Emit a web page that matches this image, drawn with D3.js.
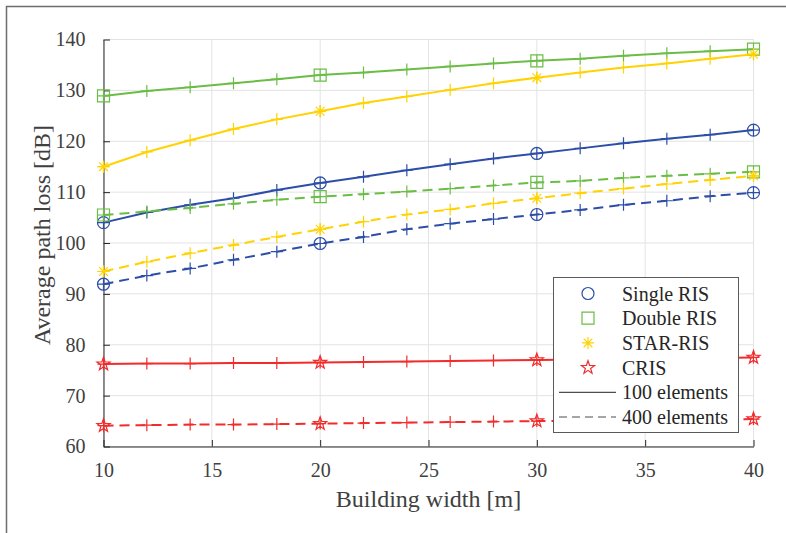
<!DOCTYPE html>
<html><head><meta charset="utf-8">
<script src="https://cdn.jsdelivr.net/npm/d3@7"></script>
<style>body{margin:0;background:#fff;}svg{display:block;font-family:"Liberation Serif","Times New Roman",serif;}svg text{font-family:"Liberation Serif","Times New Roman",serif;}</style>
</head><body>
<svg id="c" width="786" height="533"></svg>
<script>
const widths = [10,12,14,16,18,20,22,24,26,28,30,32,34,36,38,40];
const majorWidths = [10,20,30,40];
const yTicks = [60,70,80,90,100,110,120,130,140];
const xTicks = [10,15,20,25,30,35,40];
const seriesNames = ["Single RIS","Double RIS","STAR-RIS","CRIS"];
const elementNames = ["100 elements","400 elements"];

const singleRIS100 = [104.0,106.0,107.5,108.8,110.4,111.8,113.0,114.3,115.5,116.6,117.6,118.6,119.6,120.5,121.3,122.2];
const doubleRIS100 = [128.9,129.9,130.6,131.4,132.2,133.0,133.5,134.1,134.7,135.3,135.8,136.2,136.8,137.3,137.7,138.1];
const starRIS100   = [115.0,117.9,120.2,122.4,124.3,125.9,127.5,128.8,130.1,131.4,132.5,133.5,134.5,135.3,136.2,137.1];
const cris100      = [76.2,76.3,76.3,76.4,76.4,76.5,76.6,76.7,76.8,76.9,77.0,77.1,77.2,77.3,77.4,77.5];
const singleRIS400 = [91.9,93.6,95.0,96.7,98.3,99.9,101.2,102.7,103.8,104.7,105.6,106.5,107.5,108.3,109.2,109.9];
const doubleRIS400 = [105.5,106.2,106.9,107.7,108.5,109.1,109.6,110.1,110.7,111.3,111.9,112.2,112.8,113.2,113.6,114.0];
const starRIS400   = [94.4,96.3,98.0,99.6,101.2,102.7,104.2,105.6,106.6,107.8,108.8,109.8,110.7,111.6,112.4,113.2];
const cris400      = [64.1,64.2,64.3,64.3,64.4,64.5,64.6,64.7,64.8,64.9,65.0,65.1,65.2,65.3,65.3,65.4];

const colors = {"Single RIS":"#2d4ea8","Double RIS":"#6abd45","STAR-RIS":"#ffd200","CRIS":"#f22b2b"};
const markers = {"Single RIS":"circle","Double RIS":"square","STAR-RIS":"asterisk","CRIS":"star"};

const lines = [
  {name:"Double RIS", el:100, vals:doubleRIS100},
  {name:"STAR-RIS", el:100, vals:starRIS100},
  {name:"Single RIS", el:100, vals:singleRIS100},
  {name:"CRIS", el:100, vals:cris100},
  {name:"Double RIS", el:400, vals:doubleRIS400},
  {name:"STAR-RIS", el:400, vals:starRIS400},
  {name:"Single RIS", el:400, vals:singleRIS400},
  {name:"CRIS", el:400, vals:cris400}
];

const svg = d3.select("#c");
const L=103.5, R=753.5, T=39.5, B=446.5;
const x = d3.scaleLinear().domain([10,40]).range([L,R]);
const y = d3.scaleLinear().domain([60,140]).range([B,T]);
const serif = '"Liberation Serif","Times New Roman",serif';

// figure frame
svg.append("rect").attr("x",6.5).attr("y",6.5).attr("width",820).attr("height",560)
  .attr("fill","none").attr("stroke","#6e6e6e").attr("stroke-width",1.5);

// grid
const g = svg.append("g");
g.selectAll(".gx").data(xTicks).join("line").attr("x1",d=>x(d)).attr("x2",d=>x(d)).attr("y1",T).attr("y2",B)
  .attr("stroke","#e3e3e3").attr("stroke-width",1);
g.selectAll(".gy").data(yTicks).join("line").attr("y1",d=>y(d)).attr("y2",d=>y(d)).attr("x1",L).attr("x2",R)
  .attr("stroke","#e3e3e3").attr("stroke-width",1);

// axes
const xAxis = d3.axisBottom(x).tickValues(xTicks).tickSizeInner(-6.5).tickSizeOuter(0).tickPadding(16);
const yAxis = d3.axisLeft(y).tickValues(yTicks).tickSizeInner(-6.5).tickSizeOuter(0).tickPadding(18);
const ax = svg.append("g").attr("transform",`translate(0,${B})`).call(xAxis);
const ay = svg.append("g").attr("transform",`translate(${L},0)`).call(yAxis);
[ax,ay].forEach(a=>{
  a.attr("font-family",serif).attr("font-size",20);
  a.select(".domain").attr("stroke","#262626").attr("stroke-width",1);
  a.selectAll(".tick line").attr("stroke","#262626");
  a.selectAll(".tick text").attr("fill","#404040").style("font-size","20px").style("font-family",serif);
});

// markers
function markerPath(type, cx, cy, s){
  const p = d3.path();
  if(type==="circle"){ p.moveTo(cx+s,cy); p.arc(cx,cy,s,0,2*Math.PI); }
  else if(type==="square"){ p.rect(cx-s,cy-s,2*s,2*s); }
  else if(type==="plus"){ p.moveTo(cx-s,cy); p.lineTo(cx+s,cy); p.moveTo(cx,cy-s); p.lineTo(cx,cy+s); }
  else if(type==="asterisk"){
    p.moveTo(cx-s,cy); p.lineTo(cx+s,cy); p.moveTo(cx,cy-s); p.lineTo(cx,cy+s);
    const d=s*0.72; p.moveTo(cx-d,cy-d); p.lineTo(cx+d,cy+d); p.moveTo(cx-d,cy+d); p.lineTo(cx+d,cy-d);
  } else if(type==="star"){
    const ro=s*1.15, ri=ro*0.4;
    for(let i=0;i<10;i++){
      const r = i%2===0?ro:ri; const a = -Math.PI/2 + i*Math.PI/5;
      const px=cx+r*Math.cos(a), py=cy+r*Math.sin(a);
      if(i===0) p.moveTo(px,py); else p.lineTo(px,py);
    }
    p.closePath();
  }
  return p.toString();
}

const plot = svg.append("g");
const lineGen = d3.line().x(d=>x(d[0])).y(d=>y(d[1]));
lines.forEach(s=>{
  const pts = widths.map((w,i)=>[w,s.vals[i]]);
  const c = colors[s.name];
  plot.append("path").attr("d",lineGen(pts)).attr("fill","none").attr("stroke",c).attr("stroke-width",2)
    .attr("stroke-dasharray", s.el===400?"10,6":null);
  plot.append("g").selectAll("path").data(pts).join("path")
    .attr("d",d=>markerPath("plus",x(d[0]),y(d[1]),6)).attr("fill","none").attr("stroke",c).attr("stroke-width",1.2);
  plot.append("g").selectAll("path").data(pts.filter(d=>majorWidths.includes(d[0]))).join("path")
    .attr("d",d=>markerPath(markers[s.name],x(d[0]),y(d[1]),6)).attr("fill","none").attr("stroke",c).attr("stroke-width",1.2);
});

// legend
const lg = svg.append("g");
lg.append("rect").attr("x",553.5).attr("y",277.5).attr("width",185).attr("height",155)
  .attr("fill","#fff").attr("stroke","#5a5a5a").attr("stroke-width",1);
const rowY = i => 293.5 + i*24.7;
seriesNames.forEach((n,i)=>{
  lg.append("path").attr("d",markerPath(markers[n],588,rowY(i),6)).attr("fill","none").attr("stroke",colors[n]).attr("stroke-width",1.2);
  lg.append("text").attr("x",622).attr("y",rowY(i)+7).text(n).attr("fill","#262626").style("font-size","20px");
});
elementNames.forEach((n,j)=>{
  const i = j+4;
  lg.append("line").attr("x1",559).attr("x2",616).attr("y1",rowY(i)).attr("y2",rowY(i))
    .attr("stroke","#4d4d4d").attr("stroke-width",1.2).attr("stroke-dasharray", j===1?"8,5":null);
  lg.append("text").attr("x",622).attr("y",rowY(i)+7).text(n).attr("fill","#262626").style("font-size","20px");
});

// axis labels
svg.append("text").attr("x",(L+R)/2).attr("y",507).attr("text-anchor","middle").text("Building width [m]")
  .attr("fill","#404040").style("font-size","24px");
svg.append("text").attr("transform",`translate(50,${(T+B)/2-8}) rotate(-90)`).attr("text-anchor","middle")
  .text("Average path loss [dB]").attr("fill","#404040").style("font-size","24px");
</script>
</body></html>
